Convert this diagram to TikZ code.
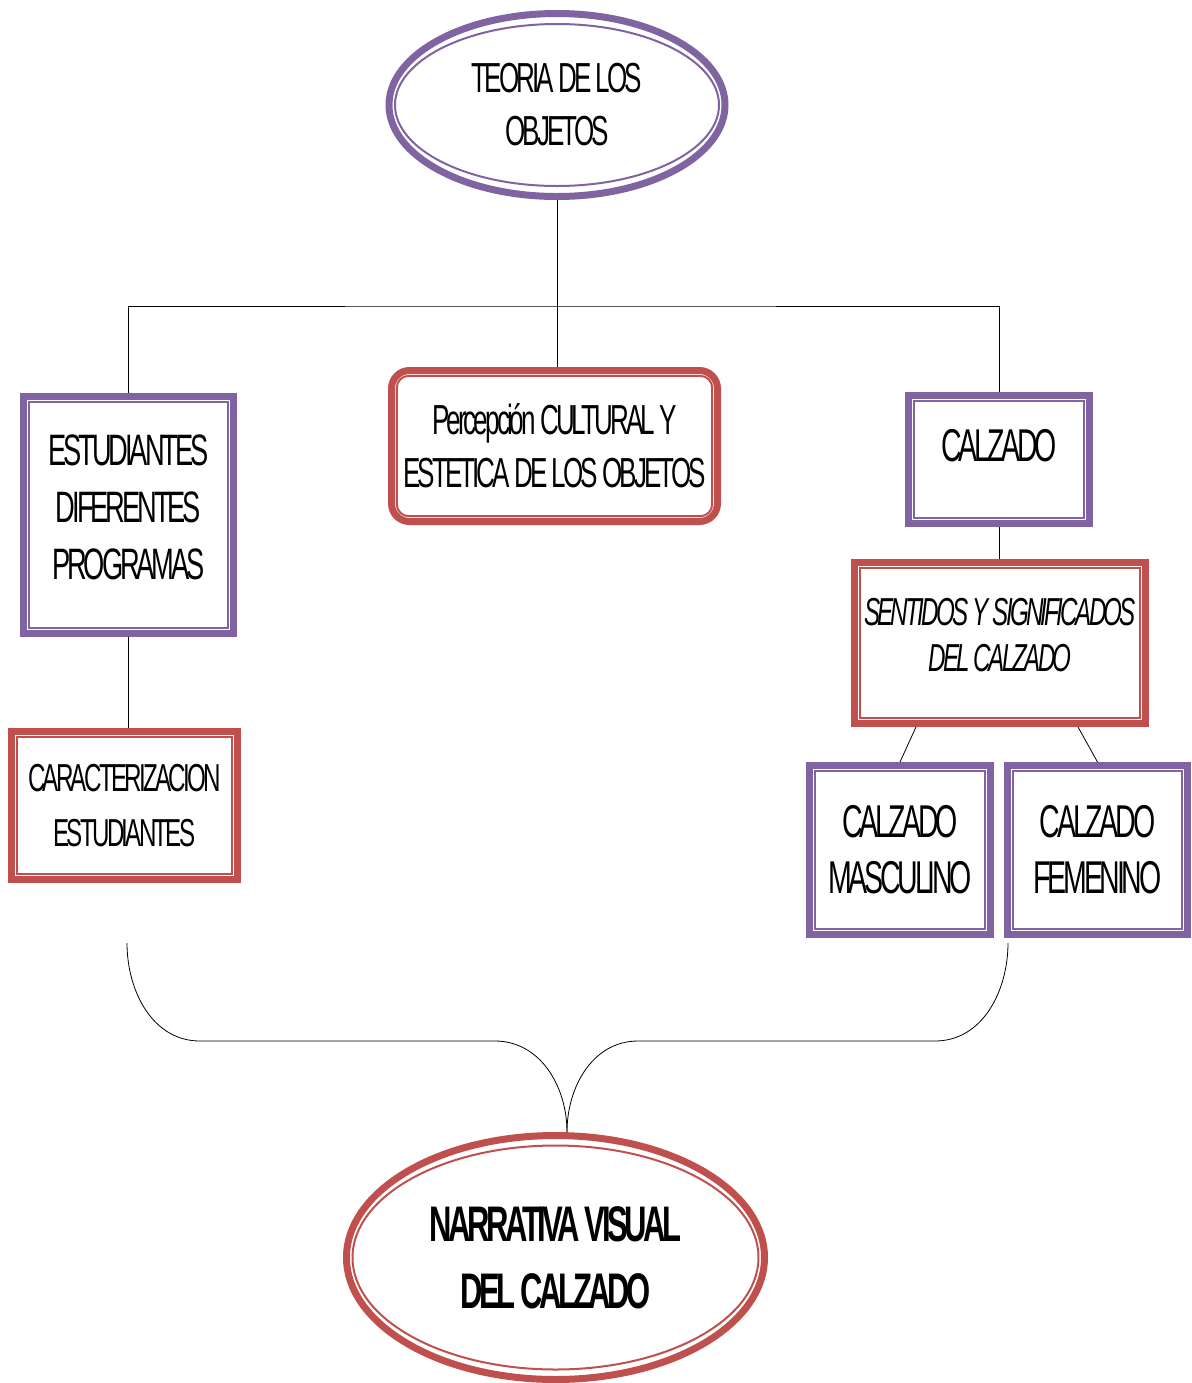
\documentclass[tikz,border=0pt]{standalone}
\usepackage{fontspec}
\usetikzlibrary{shapes.geometric}
\newfontfamily\angosta{Liberation Sans}[FakeStretch=0.62,LetterSpace=-7]
\definecolor{morado}{HTML}{8064A2}
\definecolor{rojo}{HTML}{C0504D}
\tikzset{
  caja/.style={draw=#1, line width=3.5pt, align=center, inner sep=0pt, fill=white},
  elipse/.style={ellipse, draw=#1, line width=3.5pt, align=center, inner sep=0pt, fill=white},
  marco/.style={draw=#1, line width=1pt},
  letra/.style={font=\angosta\fontsize{#1}{#1*1.27}\selectfont}
}
\begin{document}
\begin{tikzpicture}[x=0.5pt,y=-0.5pt]
        \useasboundingbox (0,0) rectangle (1191,1383);

        \node[elipse=morado, minimum width=168pt, minimum height=91.5pt, font=\angosta\fontsize{21}{26.5}\selectfont] (teoria) at (557,105) {TEORIA DE LOS\\OBJETOS};
        \draw[marco=morado] (teoria.center) ellipse [x radius=81pt, y radius=40.5pt];

        \node[caja=rojo, rounded corners=9pt, minimum width=163pt, minimum height=75.5pt, font=\angosta\fontsize{21}{26.5}\selectfont] (perc) at (554.5,446) {Percepción CULTURAL Y\\ESTETICA DE LOS OBJETOS};
        \draw[marco=rojo, rounded corners=6pt] ([shift={(4.4pt,-4.4pt)}]perc.north west) rectangle ([shift={(-4.4pt,4.4pt)}]perc.south east);

        \node[caja=morado, minimum width=105pt, minimum height=118.5pt, text depth=8pt, font=\angosta\fontsize{22}{28.5}\selectfont] (estud) at (128.5,515) {ESTUDIANTES\\DIFERENTES\\PROGRAMAS};
        \node[caja=rojo, minimum width=113pt, minimum height=74pt, font=\angosta\fontsize{19.5}{27.5}\selectfont] (carac) at (124.5,805.5) {CARACTERIZACION\\ESTUDIANTES};

        \node[caja=morado, minimum width=90.5pt, minimum height=64pt, text depth=14pt, font=\angosta\fontsize{23}{28}\selectfont] (calz) at (999,459.5) {CALZADO};
        \node[caja=rojo, minimum width=145.5pt, minimum height=80.5pt, text depth=8pt, font=\angosta\itshape\fontsize{19.5}{23}\selectfont] (sent) at (1000,643) {SENTIDOS Y SIGNIFICADOS\\DEL CALZADO};
        \node[caja=morado, minimum width=90.5pt, minimum height=84.5pt, font=\angosta\fontsize{23}{28}\selectfont] (masc) at (900,850) {CALZADO\\MASCULINO};
        \node[caja=morado, minimum width=90pt, minimum height=84.5pt, font=\angosta\fontsize{23}{28}\selectfont] (fem) at (1097.5,850) {CALZADO\\FEMENINO};

        \foreach \n/\c in {estud/morado, carac/rojo, calz/morado, sent/rojo, masc/morado, fem/morado}
            \draw[marco=\c] ([shift={(4.4pt,-4.4pt)}]\n.north west) rectangle ([shift={(-4.4pt,4.4pt)}]\n.south east);

        \node[elipse=rojo, minimum width=209pt, minimum height=122pt, font=\angosta\bfseries\fontsize{25}{33.5}\selectfont] (narr) at (555.5,1257.5) {NARRATIVA VISUAL\\DEL CALZADO};
        \draw[marco=rojo] (narr.center) ellipse [x radius=101.5pt, y radius=56pt];

        % conectores
        \coordinate (barra) at (557,306);
        \draw (teoria.south) -- (teoria.south |- perc.north);
        \draw (estud.north) |- (barra) -| (calz.north);
        \draw (estud.south) -- (estud.south |- carac.north);
        \draw (calz.south) -- (calz.south |- sent.north);
        \draw ([xshift=-42pt]sent.south) -- (masc.north);
        \draw ([xshift=39pt]sent.south) -- (fem.north);

        % llave
        \coordinate (llaveizq) at (127,943);
        \coordinate (llaveder) at (1008,943);
        \coordinate (punta) at ([xshift=5.75pt]narr.north);
        \draw (llaveizq) to[out=-90,in=180] ++(73,98) -- ++(295,0) to[out=0,in=90] (punta);
        \draw (llaveder) to[out=-90,in=0] ++(-73,98) -- ++(-297,0) to[out=180,in=90] (punta);

\end{tikzpicture}
\end{document}
